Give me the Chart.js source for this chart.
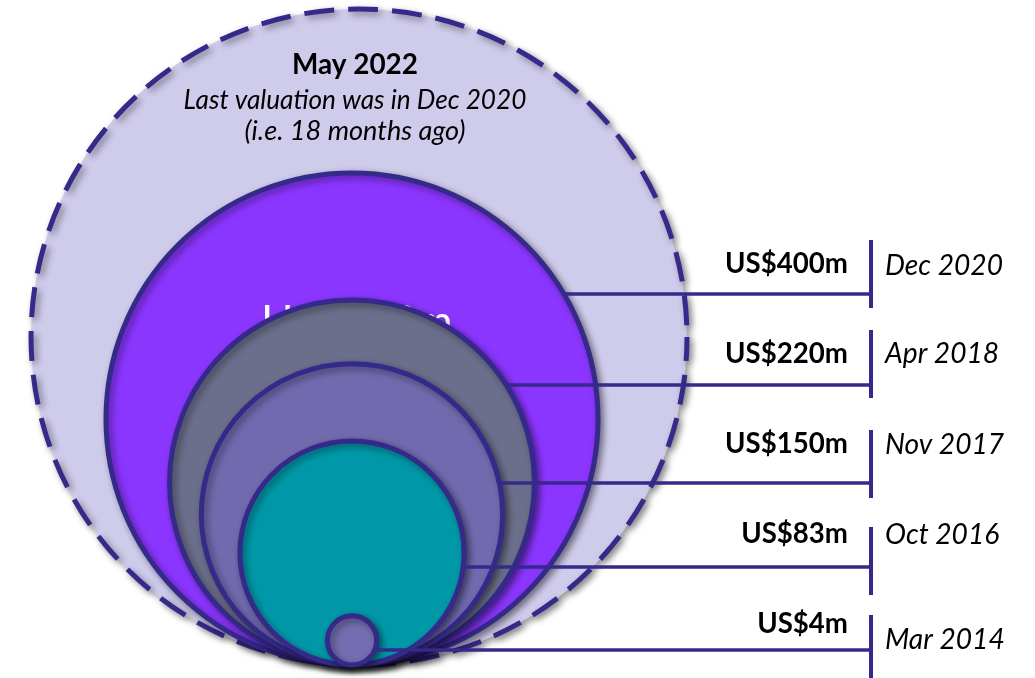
<!DOCTYPE html>
<html><head><meta charset="utf-8">
<script src="https://cdn.jsdelivr.net/npm/chart.js@4/dist/chart.umd.min.js"></script>
<style>html,body{margin:0;padding:0;background:#fff;overflow:hidden}canvas{display:block}</style>
</head><body>
<canvas id="c" width="1035" height="678"></canvas>
<script>
// ---- data ----
const rounds = ['Mar 2014', 'Oct 2016', 'Nov 2017', 'Apr 2018', 'Dec 2020'];
const valuationsUSDm = [4, 83, 150, 220, 400];
const valuationLabels = ['US$4m', 'US$83m', 'US$150m', 'US$220m', 'US$400m'];
const headerLines = ['May 2022', 'Last valuation was in Dec 2020', '(i.e. 18 months ago)'];
const innerLabel = 'US$400m';
const backdropSize = [711]; // size of the dashed "May 2022" circle, same area units

// ---- styles / layout ----
const FONT = 'Lato';
const PX_PER_UNIT = 12.3, ORIGIN_X = 352, BASE_Y = 665, W = 1035, H = 678;
const fills = ['#746DB1', '#0098A8', '#716AAE', '#6C6F8B', '#8B36FF'];
const backdropFill = '#CFCBEB';
const edge = '#35298A';
const backdropShiftX = 0.57;
const tickX = 871, labelRight = 848, dateLeft = 885;
const rows = [ // same order as rounds
  {lineY: 650, top: 615, bottom: 680, labelBase: 633, dateBase: 649},
  {lineY: 567, top: 527, bottom: 595, labelBase: 543, dateBase: 544},
  {lineY: 483, top: 430, bottom: 498, labelBase: 453, dateBase: 454},
  {lineY: 385, top: 330, bottom: 398, labelBase: 363, dateBase: 363},
  {lineY: 294, top: 240, bottom: 308, labelBase: 273, dateBase: 275}
];

const datasets = valuationsUSDm.map((v, i) => ({
  label: valuationLabels[i],
  data: [{x: 0, y: Math.sqrt(v)}],
  backgroundColor: fills[i],
  borderColor: edge,
  borderWidth: 5,
  clip: false
}));
datasets.push({
  label: headerLines[0],
  data: [{x: backdropShiftX, y: Math.sqrt(backdropSize[0])}],
  backgroundColor: backdropFill,
  borderColor: edge,
  borderWidth: 5,
  clip: false,
  dashed: true
});

function fit(ctx, text, style, target) {
  ctx.font = style + ' 100px ' + FONT;
  return 100 * target / ctx.measureText(text).width;
}

const deco = {
  id: 'deco',
  beforeDatasetDraw(chart, args) {
    const ctx = chart.ctx;
    ctx.save();
    ctx.shadowColor = 'rgba(0,0,0,0.42)';
    ctx.shadowBlur = 7;
    ctx.shadowOffsetX = 3;
    ctx.shadowOffsetY = 3;
    if (chart.data.datasets[args.index].dashed) { ctx.setLineDash([30, 14]); ctx.lineDashOffset = 6; }
  },
  afterDatasetDraw(chart, args) {
    const ctx = chart.ctx;
    ctx.restore();
    if (args.index === valuationsUSDm.length - 1) {
      const el = chart.getDatasetMeta(args.index).data[0];
      const s = fit(ctx, innerLabel, 'normal', 191);
      ctx.save();
      ctx.font = 'normal ' + s + 'px ' + FONT;
      const asc = ctx.measureText('U').actualBoundingBoxAscent;
      ctx.fillStyle = '#fff';
      ctx.textAlign = 'center';
      ctx.textBaseline = 'alphabetic';
      ctx.fillText(innerLabel, el.x + 5, 305 + asc);
      ctx.restore();
    }
  },
  afterDatasetsDraw(chart) {
    const ctx = chart.ctx;
    ctx.save();
    ctx.strokeStyle = edge;
    rows.forEach((r, i) => {
      const el = chart.getDatasetMeta(i).data[0];
      const rad = el.options.radius;
      const dy = r.lineY - el.y;
      const xs = el.x + Math.sqrt(Math.max(0, rad * rad - dy * dy));
      ctx.lineWidth = 3.5;
      ctx.beginPath(); ctx.moveTo(xs, r.lineY); ctx.lineTo(tickX, r.lineY); ctx.stroke();
      ctx.lineWidth = 4;
      ctx.beginPath(); ctx.moveTo(tickX, r.top); ctx.lineTo(tickX, r.bottom); ctx.stroke();
    });
    const ls = fit(ctx, valuationLabels[4], 'bold', 123);
    const ds = fit(ctx, rounds[4], 'italic', 118);
    ctx.fillStyle = '#000';
    ctx.textBaseline = 'alphabetic';
    rows.forEach((r, i) => {
      ctx.font = 'bold ' + ls + 'px ' + FONT;
      ctx.textAlign = 'right';
      ctx.fillText(valuationLabels[i], labelRight, r.labelBase);
      ctx.font = 'italic ' + ds + 'px ' + FONT;
      ctx.textAlign = 'left';
      ctx.fillText(rounds[i], dateLeft, r.dateBase);
    });
    const hx = 355;
    ctx.textAlign = 'center';
    ctx.font = 'bold ' + fit(ctx, headerLines[0], 'bold', 126) + 'px ' + FONT;
    ctx.fillText(headerLines[0], hx, 74);
    ctx.font = 'italic ' + fit(ctx, headerLines[1], 'italic', 343) + 'px ' + FONT;
    ctx.fillText(headerLines[1], hx, 109);
    ctx.font = 'italic ' + fit(ctx, headerLines[2], 'italic', 221) + 'px ' + FONT;
    ctx.fillText(headerLines[2], hx, 140);
    ctx.restore();
  }
};

const chart = new Chart(document.getElementById('c'), {
  type: 'bubble',
  data: {datasets},
  options: {
    responsive: false,
    animation: false,
    events: [],
    devicePixelRatio: 1,
    layout: {padding: 0, autoPadding: false},
    plugins: {legend: {display: false}, tooltip: {enabled: false}},
    scales: {
      x: {type: 'linear', display: false, min: -ORIGIN_X / PX_PER_UNIT, max: (W - ORIGIN_X) / PX_PER_UNIT},
      y: {type: 'linear', display: false, min: -(H - BASE_Y) / PX_PER_UNIT, max: BASE_Y / PX_PER_UNIT}
    }
  },
  plugins: [deco]
});
// bubble radius (px) = the y scale's pixel length of each circle's centre height,
// so every circle touches the baseline and its area is proportional to the value
const yScale = chart.scales.y;
chart.data.datasets.forEach(ds => {
  ds.data = ds.data.map(p => ({x: p.x, y: p.y, r: yScale.getPixelForValue(0) - yScale.getPixelForValue(p.y)}));
});
chart.update();
</script>
</body></html>
